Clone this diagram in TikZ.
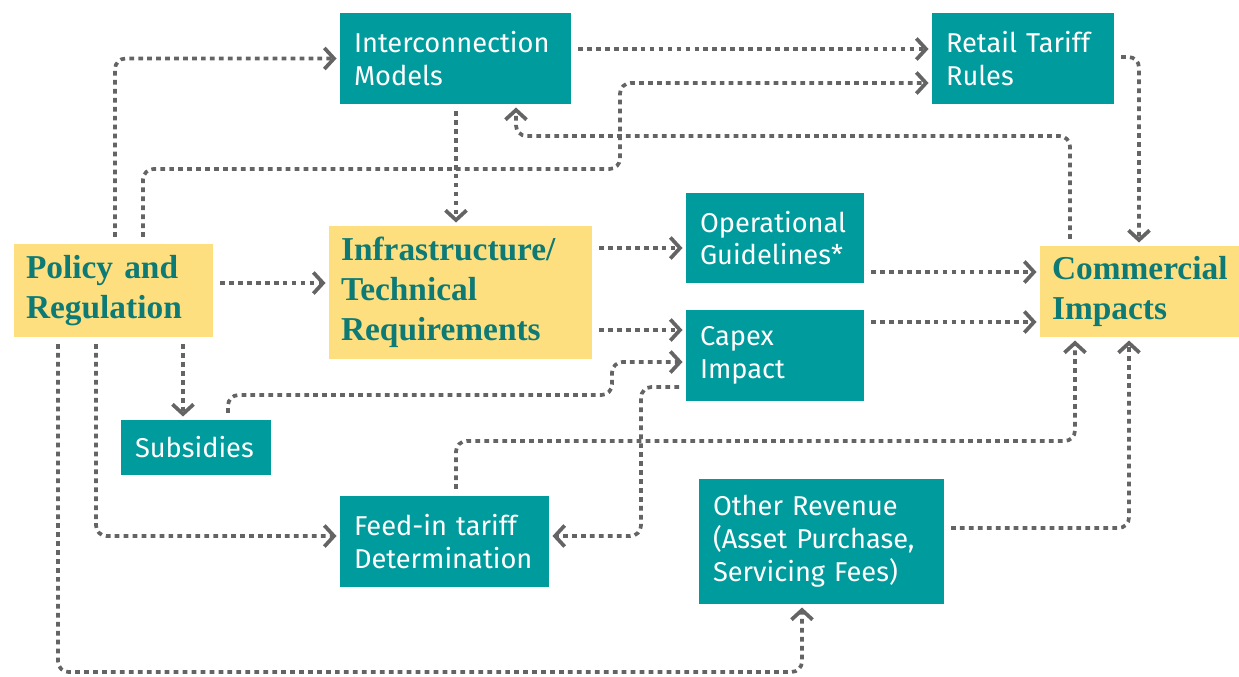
\documentclass[tikz,border=0pt]{standalone}
\usepackage{fontspec}
\setmainfont{Liberation Serif}
\newfontfamily\boxfont{Fira Sans}
\usetikzlibrary{arrows.meta}
\definecolor{boxteal}{RGB}{0,155,156}
\definecolor{boxyellow}{RGB}{253,223,128}
\definecolor{darkteal}{RGB}{14,122,117}
\definecolor{flowgray}{RGB}{100,100,100}

\begin{document}
\begin{tikzpicture}[x=0.02cm, y=-0.02cm,
    tealbox/.style={fill=boxteal, text=white, font=\boxfont\fontsize{15.5}{18.7}\selectfont,
      align=left, inner xsep=0.28cm, outer sep=2pt},
    yellowbox/.style={fill=boxyellow, text=darkteal, font=\fontsize{19}{22.7}\selectfont\bfseries,
      align=left, inner xsep=0.24cm, outer sep=2pt},
    flow/.style={draw=flowgray, line width=2.1pt, dash pattern=on 2.7pt off 2.4pt,
      rounded corners=6pt, shorten <=2pt, -{Straight Barb[length=5.5pt, width=12pt]}}]
        \useasboundingbox (0,0) rectangle (1239,676);

        \node[yellowbox, text width=3.50cm, minimum height=1.86cm] (pol) at (113.5,290.5) {Policy and\\Regulation};
        \node[yellowbox, text width=4.78cm, minimum height=2.66cm] (infra) at (460.5,292.5) {Infrastructure/\\Technical\\Requirements};
        \node[yellowbox, text width=3.50cm, minimum height=1.82cm] (comm) at (1139.5,291.5) {Commercial\\Impacts};
        \node[tealbox, text width=4.06cm, minimum height=1.82cm] (inter) at (455.5,58.5) {Interconnection\\Models};
        \node[tealbox, text width=3.08cm, minimum height=1.82cm] (retail) at (1023,58.5) {Retail Tariff\\Rules};
        \node[tealbox, text width=3.00cm, minimum height=1.80cm] (oper) at (775,238) {Operational\\Guidelines*};
        \node[tealbox, text width=3.00cm, minimum height=1.82cm] (capex) at (775,355.5) {Capex\\Impact};
        \node[tealbox, text width=2.44cm, minimum height=1.10cm] (subs) at (196,447.5) {Subsidies};
        \node[tealbox, text width=3.62cm, minimum height=1.82cm] (feed) at (444.5,541.5) {Feed-in tariff\\Determination};
        \node[tealbox, text width=4.34cm, minimum height=2.50cm] (other) at (821.5,541.5) {Other Revenue\\(Asset Purchase,\\Servicing Fees)};

        % out of policy and regulation
        \draw[flow] (115,0 |- pol.north) |- (inter.west);
        \draw[flow] (143,0 |- pol.north) |- (620,169) |- (retail.west |- 0,83);
        \draw[flow] (pol.east |- 0,283) -- (infra.west |- 0,283);
        \draw[flow] (183,0 |- pol.south) -- (183,0 |- subs.north);
        \draw[flow] (96,0 |- pol.south) |- (feed.west |- 0,536);
        \draw[flow] (58,0 |- pol.south) |- (802,672) -- (802,0 |- other.south);

        \draw[flow] (inter.east |- 0,49) -- (retail.west |- 0,49);
        \draw[flow] (456,0 |- inter.south) -- (456,0 |- infra.north);
        \draw[flow] (1070,0 |- comm.north) |- (516,136) -- (516,0 |- inter.south);
        \draw[flow] (retail.east |- 0,57) -| (1139,0 |- comm.north);

        \draw[flow] (infra.east |- 0,248) -- (oper.west |- 0,248);
        \draw[flow] (infra.east |- 0,330) -- (capex.west |- 0,330);
        \draw[flow] (oper.east |- 0,272) -- (comm.west |- 0,272);
        \draw[flow] (capex.east |- 0,322) -- (comm.west |- 0,322);

        \draw[flow] (228,0 |- subs.north) |- (612,395) |- (capex.west |- 0,362);
        \draw[flow] (capex.west |- 0,387) -| (641,536) -- (feed.east |- 0,536);
        \draw[flow] (456,0 |- feed.north) |- (1075,441) -- (1075,0 |- comm.south);
        \draw[flow] (other.east |- 0,528) -| (1129,0 |- comm.south);
      \end{tikzpicture}
\end{document}
